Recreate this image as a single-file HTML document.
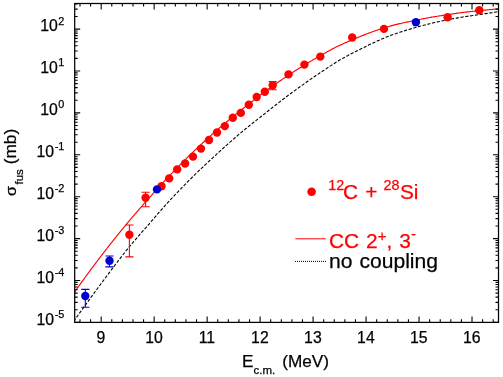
<!DOCTYPE html><html><head><meta charset="utf-8"><style>html,body{margin:0;padding:0;background:#fff}svg{display:block}text{font-family:"Liberation Sans",sans-serif;stroke-width:0.25px;stroke:#000}text[fill="#f00"]{stroke:#f00}</style></head><body>
<svg width="503" height="377" viewBox="0 0 503 377">
<rect width="503" height="377" fill="#fff"/>
<defs><clipPath id="c"><rect x="74.7" y="3.5" width="423.8" height="318.9"/></clipPath></defs>
<g opacity="0.999">
<g clip-path="url(#c)" fill="none">
<path d="M73.70 293.35 C74.03 292.88 75.03 291.46 75.70 290.52 C76.37 289.58 77.03 288.64 77.70 287.71 C78.37 286.77 79.03 285.84 79.70 284.91 C80.37 283.98 81.03 283.05 81.70 282.13 C82.37 281.20 83.03 280.28 83.70 279.36 C84.37 278.44 85.03 277.53 85.70 276.61 C86.37 275.70 87.03 274.79 87.70 273.88 C88.37 272.97 89.03 272.07 89.70 271.17 C90.37 270.26 91.03 269.36 91.70 268.47 C92.37 267.57 93.03 266.68 93.70 265.79 C94.37 264.89 95.03 264.01 95.70 263.12 C96.37 262.23 97.03 261.35 97.70 260.47 C98.37 259.59 99.03 258.71 99.70 257.84 C100.37 256.96 101.03 256.09 101.70 255.22 C102.37 254.35 103.03 253.49 103.70 252.62 C104.37 251.76 105.03 250.90 105.70 250.04 C106.37 249.18 107.03 248.33 107.70 247.48 C108.37 246.62 109.03 245.77 109.70 244.93 C110.37 244.08 111.03 243.24 111.70 242.39 C112.37 241.55 113.03 240.71 113.70 239.88 C114.37 239.04 115.03 238.21 115.70 237.38 C116.37 236.55 117.03 235.72 117.70 234.90 C118.37 234.07 119.03 233.25 119.70 232.43 C120.37 231.61 121.03 230.79 121.70 229.98 C122.37 229.16 123.03 228.35 123.70 227.54 C124.37 226.73 125.03 225.93 125.70 225.12 C126.37 224.32 127.03 223.52 127.70 222.72 C128.37 221.92 129.03 221.13 129.70 220.34 C130.37 219.54 131.03 218.75 131.70 217.97 C132.37 217.18 133.03 216.39 133.70 215.61 C134.37 214.83 135.03 214.05 135.70 213.27 C136.37 212.50 137.03 211.72 137.70 210.95 C138.37 210.18 139.03 209.41 139.70 208.64 C140.37 207.87 141.03 207.11 141.70 206.35 C142.37 205.59 143.03 204.83 143.70 204.07 C144.37 203.32 145.03 202.56 145.70 201.81 C146.37 201.06 147.03 200.31 147.70 199.57 C148.37 198.82 149.03 198.08 149.70 197.33 C150.37 196.59 151.03 195.84 151.70 195.09 C152.37 194.34 153.03 193.60 153.70 192.86 C154.37 192.11 155.03 191.37 155.70 190.64 C156.37 189.90 157.03 189.16 157.70 188.43 C158.37 187.70 159.03 186.97 159.70 186.24 C160.37 185.51 161.03 184.79 161.70 184.07 C162.37 183.34 163.03 182.62 163.70 181.91 C164.37 181.19 165.03 180.47 165.70 179.76 C166.37 179.05 167.03 178.33 167.70 177.63 C168.37 176.92 169.03 176.21 169.70 175.51 C170.37 174.80 171.03 174.10 171.70 173.40 C172.37 172.70 173.03 172.01 173.70 171.31 C174.37 170.62 175.03 169.93 175.70 169.24 C176.37 168.55 177.03 167.86 177.70 167.18 C178.37 166.49 179.03 165.80 179.70 165.13 C180.37 164.45 181.03 163.79 181.70 163.12 C182.37 162.45 183.03 161.79 183.70 161.13 C184.37 160.47 185.03 159.81 185.70 159.16 C186.37 158.50 187.03 157.85 187.70 157.20 C188.37 156.54 189.03 155.90 189.70 155.25 C190.37 154.60 191.03 153.96 191.70 153.31 C192.37 152.67 193.03 152.03 193.70 151.39 C194.37 150.75 195.03 150.12 195.70 149.48 C196.37 148.85 197.03 148.22 197.70 147.59 C198.37 146.96 199.03 146.33 199.70 145.71 C200.37 145.08 201.03 144.46 201.70 143.84 C202.37 143.22 203.03 142.60 203.70 141.98 C204.37 141.36 205.03 140.75 205.70 140.14 C206.37 139.52 207.03 138.91 207.70 138.30 C208.37 137.70 209.03 137.08 209.70 136.49 C210.37 135.89 211.03 135.30 211.70 134.71 C212.37 134.12 213.03 133.53 213.70 132.95 C214.37 132.36 215.03 131.78 215.70 131.20 C216.37 130.62 217.03 130.04 217.70 129.46 C218.37 128.89 219.03 128.31 219.70 127.74 C220.37 127.17 221.03 126.60 221.70 126.03 C222.37 125.46 223.03 124.90 223.70 124.33 C224.37 123.77 225.03 123.21 225.70 122.65 C226.37 122.09 227.03 121.53 227.70 120.97 C228.37 120.42 229.03 119.86 229.70 119.31 C230.37 118.76 231.03 118.21 231.70 117.66 C232.37 117.12 233.03 116.57 233.70 116.03 C234.37 115.48 235.03 114.94 235.70 114.40 C236.37 113.86 237.03 113.32 237.70 112.79 C238.37 112.25 239.03 111.73 239.70 111.19 C240.37 110.65 241.03 110.11 241.70 109.57 C242.37 109.04 243.03 108.50 243.70 107.96 C244.37 107.43 245.03 106.90 245.70 106.37 C246.37 105.84 247.03 105.31 247.70 104.78 C248.37 104.26 249.03 103.73 249.70 103.21 C250.37 102.69 251.03 102.17 251.70 101.65 C252.37 101.13 253.03 100.61 253.70 100.10 C254.37 99.59 255.03 99.07 255.70 98.56 C256.37 98.05 257.03 97.55 257.70 97.04 C258.37 96.53 259.03 96.03 259.70 95.53 C260.37 95.03 261.03 94.53 261.70 94.03 C262.37 93.53 263.03 93.04 263.70 92.54 C264.37 92.05 265.03 91.56 265.70 91.07 C266.37 90.58 267.03 90.09 267.70 89.61 C268.37 89.12 269.03 88.64 269.70 88.16 C270.37 87.67 271.03 87.20 271.70 86.72 C272.37 86.24 273.03 85.77 273.70 85.29 C274.37 84.82 275.03 84.35 275.70 83.88 C276.37 83.41 277.03 82.95 277.70 82.48 C278.37 82.02 279.03 81.55 279.70 81.09 C280.37 80.63 281.03 80.18 281.70 79.72 C282.37 79.26 283.03 78.81 283.70 78.36 C284.37 77.91 285.03 77.46 285.70 77.01 C286.37 76.56 287.03 76.12 287.70 75.67 C288.37 75.23 289.03 74.79 289.70 74.35 C290.37 73.91 291.03 73.47 291.70 73.04 C292.37 72.61 293.03 72.17 293.70 71.74 C294.37 71.31 295.03 70.89 295.70 70.46 C296.37 70.03 297.03 69.61 297.70 69.19 C298.37 68.77 299.03 68.35 299.70 67.93 C300.37 67.51 301.03 67.10 301.70 66.69 C302.37 66.27 303.03 65.86 303.70 65.46 C304.37 65.05 305.03 64.64 305.70 64.24 C306.37 63.84 307.03 63.43 307.70 63.04 C308.37 62.64 309.03 62.24 309.70 61.85 C310.37 61.45 311.03 61.06 311.70 60.67 C312.37 60.28 313.03 59.89 313.70 59.51 C314.37 59.12 315.03 58.74 315.70 58.36 C316.37 57.98 317.03 57.60 317.70 57.22 C318.37 56.85 319.03 56.48 319.70 56.10 C320.37 55.72 321.03 55.34 321.70 54.95 C322.37 54.57 323.03 54.19 323.70 53.81 C324.37 53.44 325.03 53.06 325.70 52.69 C326.37 52.32 327.03 51.94 327.70 51.58 C328.37 51.21 329.03 50.84 329.70 50.48 C330.37 50.12 331.03 49.75 331.70 49.40 C332.37 49.04 333.03 48.68 333.70 48.33 C334.37 47.97 335.03 47.62 335.70 47.27 C336.37 46.93 337.03 46.59 337.70 46.27 C338.37 45.94 339.03 45.64 339.70 45.33 C340.37 45.02 341.03 44.72 341.70 44.41 C342.37 44.11 343.03 43.81 343.70 43.51 C344.37 43.21 345.03 42.92 345.70 42.62 C346.37 42.33 347.03 42.04 347.70 41.75 C348.37 41.46 349.03 41.17 349.70 40.89 C350.37 40.60 351.03 40.32 351.70 40.04 C352.37 39.76 353.03 39.49 353.70 39.21 C354.37 38.94 355.03 38.66 355.70 38.38 C356.37 38.10 357.03 37.82 357.70 37.54 C358.37 37.26 359.03 36.98 359.70 36.71 C360.37 36.44 361.03 36.17 361.70 35.90 C362.37 35.63 363.03 35.36 363.70 35.10 C364.37 34.83 365.03 34.57 365.70 34.31 C366.37 34.06 367.03 33.80 367.70 33.55 C368.37 33.29 369.03 33.04 369.70 32.79 C370.37 32.54 371.03 32.30 371.70 32.05 C372.37 31.81 373.03 31.57 373.70 31.33 C374.37 31.09 375.03 30.86 375.70 30.62 C376.37 30.39 377.03 30.16 377.70 29.93 C378.37 29.70 379.03 29.47 379.70 29.25 C380.37 29.03 381.03 28.81 381.70 28.59 C382.37 28.37 383.03 28.15 383.70 27.94 C384.37 27.73 385.03 27.52 385.70 27.32 C386.37 27.13 387.03 26.94 387.70 26.76 C388.37 26.57 389.03 26.39 389.70 26.21 C390.37 26.02 391.03 25.85 391.70 25.67 C392.37 25.49 393.03 25.32 393.70 25.15 C394.37 24.98 395.03 24.81 395.70 24.64 C396.37 24.47 397.03 24.31 397.70 24.15 C398.37 23.98 399.03 23.82 399.70 23.67 C400.37 23.51 401.03 23.35 401.70 23.20 C402.37 23.05 403.03 22.90 403.70 22.75 C404.37 22.60 405.03 22.46 405.70 22.31 C406.37 22.17 407.03 22.03 407.70 21.89 C408.37 21.75 409.03 21.61 409.70 21.48 C410.37 21.34 411.03 21.21 411.70 21.08 C412.37 20.95 413.03 20.83 413.70 20.69 C414.37 20.56 415.03 20.44 415.70 20.30 C416.37 20.16 417.03 20.01 417.70 19.87 C418.37 19.73 419.03 19.59 419.70 19.45 C420.37 19.32 421.03 19.18 421.70 19.05 C422.37 18.91 423.03 18.78 423.70 18.65 C424.37 18.52 425.03 18.40 425.70 18.27 C426.37 18.15 427.03 18.02 427.70 17.90 C428.37 17.78 429.03 17.66 429.70 17.54 C430.37 17.42 431.03 17.31 431.70 17.19 C432.37 17.08 433.03 16.96 433.70 16.85 C434.37 16.74 435.03 16.63 435.70 16.52 C436.37 16.41 437.03 16.30 437.70 16.20 C438.37 16.09 439.03 15.99 439.70 15.89 C440.37 15.78 441.03 15.67 441.70 15.56 C442.37 15.45 443.03 15.35 443.70 15.24 C444.37 15.14 445.03 15.03 445.70 14.93 C446.37 14.83 447.03 14.72 447.70 14.62 C448.37 14.52 449.03 14.42 449.70 14.32 C450.37 14.23 451.03 14.13 451.70 14.03 C452.37 13.93 453.03 13.84 453.70 13.74 C454.37 13.65 455.03 13.55 455.70 13.46 C456.37 13.36 457.03 13.27 457.70 13.18 C458.37 13.09 459.03 12.99 459.70 12.90 C460.37 12.81 461.03 12.72 461.70 12.63 C462.37 12.54 463.03 12.45 463.70 12.36 C464.37 12.27 465.03 12.19 465.70 12.11 C466.37 12.04 467.03 11.97 467.70 11.91 C468.37 11.84 469.03 11.77 469.70 11.70 C470.37 11.63 471.03 11.56 471.70 11.50 C472.37 11.43 473.03 11.36 473.70 11.29 C474.37 11.22 475.03 11.15 475.70 11.08 C476.37 11.01 477.03 10.94 477.70 10.86 C478.37 10.79 479.03 10.72 479.70 10.65 C480.37 10.57 481.03 10.49 481.70 10.42 C482.37 10.36 483.03 10.31 483.70 10.25 C484.37 10.19 485.03 10.13 485.70 10.07 C486.37 10.01 487.03 9.95 487.70 9.88 C488.37 9.82 489.03 9.76 489.70 9.69 C490.37 9.63 491.03 9.56 491.70 9.49 C492.37 9.42 493.03 9.35 493.70 9.27 C494.37 9.20 495.03 9.12 495.70 9.05 C496.37 8.97 497.37 8.85 497.70 8.81" stroke="#f00" stroke-width="1.15"/>
<path d="M73.70 321.29 C74.03 320.82 75.03 319.42 75.70 318.49 C76.37 317.56 77.03 316.63 77.70 315.70 C78.37 314.77 79.03 313.84 79.70 312.91 C80.37 311.99 81.03 311.06 81.70 310.13 C82.37 309.21 83.03 308.29 83.70 307.36 C84.37 306.44 85.03 305.52 85.70 304.60 C86.37 303.68 87.03 302.76 87.70 301.85 C88.37 300.93 89.03 300.01 89.70 299.10 C90.37 298.19 91.03 297.27 91.70 296.36 C92.37 295.45 93.03 294.55 93.70 293.64 C94.37 292.73 95.03 291.83 95.70 290.93 C96.37 290.02 97.03 289.12 97.70 288.22 C98.37 287.32 99.03 286.43 99.70 285.53 C100.37 284.64 101.03 283.74 101.70 282.85 C102.37 281.96 103.03 281.08 103.70 280.19 C104.37 279.30 105.03 278.41 105.70 277.51 C106.37 276.62 107.03 275.71 107.70 274.81 C108.37 273.91 109.03 273.02 109.70 272.13 C110.37 271.23 111.03 270.34 111.70 269.45 C112.37 268.56 113.03 267.68 113.70 266.79 C114.37 265.91 115.03 265.03 115.70 264.15 C116.37 263.27 117.03 262.39 117.70 261.52 C118.37 260.65 119.03 259.77 119.70 258.91 C120.37 258.04 121.03 257.17 121.70 256.31 C122.37 255.44 123.03 254.57 123.70 253.72 C124.37 252.87 125.03 252.02 125.70 251.20 C126.37 250.38 127.03 249.59 127.70 248.79 C128.37 247.99 129.03 247.19 129.70 246.39 C130.37 245.59 131.03 244.80 131.70 244.01 C132.37 243.22 133.03 242.43 133.70 241.64 C134.37 240.86 135.03 240.07 135.70 239.29 C136.37 238.51 137.03 237.73 137.70 236.96 C138.37 236.18 139.03 235.41 139.70 234.64 C140.37 233.87 141.03 233.10 141.70 232.33 C142.37 231.57 143.03 230.81 143.70 230.05 C144.37 229.29 145.03 228.53 145.70 227.78 C146.37 227.02 147.03 226.27 147.70 225.52 C148.37 224.77 149.03 224.05 149.70 223.28 C150.37 222.52 151.03 221.73 151.70 220.95 C152.37 220.17 153.03 219.38 153.70 218.60 C154.37 217.83 155.03 217.05 155.70 216.28 C156.37 215.51 157.03 214.74 157.70 213.97 C158.37 213.20 159.03 212.44 159.70 211.68 C160.37 210.91 161.03 210.16 161.70 209.40 C162.37 208.64 163.03 207.88 163.70 207.14 C164.37 206.39 165.03 205.64 165.70 204.91 C166.37 204.17 167.03 203.45 167.70 202.73 C168.37 202.00 169.03 201.28 169.70 200.56 C170.37 199.85 171.03 199.13 171.70 198.42 C172.37 197.70 173.03 196.99 173.70 196.28 C174.37 195.57 175.03 194.87 175.70 194.16 C176.37 193.46 177.03 192.76 177.70 192.06 C178.37 191.36 179.03 190.66 179.70 189.97 C180.37 189.28 181.03 188.58 181.70 187.89 C182.37 187.20 183.03 186.52 183.70 185.83 C184.37 185.15 185.03 184.47 185.70 183.79 C186.37 183.11 187.03 182.43 187.70 181.75 C188.37 181.08 189.03 180.40 189.70 179.73 C190.37 179.07 191.03 178.41 191.70 177.76 C192.37 177.10 193.03 176.45 193.70 175.80 C194.37 175.14 195.03 174.50 195.70 173.85 C196.37 173.20 197.03 172.56 197.70 171.91 C198.37 171.27 199.03 170.63 199.70 169.99 C200.37 169.36 201.03 168.72 201.70 168.09 C202.37 167.45 203.03 166.82 203.70 166.19 C204.37 165.56 205.03 164.94 205.70 164.31 C206.37 163.69 207.03 163.06 207.70 162.44 C208.37 161.82 209.03 161.20 209.70 160.58 C210.37 159.97 211.03 159.35 211.70 158.74 C212.37 158.13 213.03 157.52 213.70 156.91 C214.37 156.29 215.03 155.69 215.70 155.07 C216.37 154.46 217.03 153.84 217.70 153.23 C218.37 152.62 219.03 152.01 219.70 151.40 C220.37 150.79 221.03 150.19 221.70 149.58 C222.37 148.98 223.03 148.38 223.70 147.78 C224.37 147.18 225.03 146.58 225.70 145.98 C226.37 145.39 227.03 144.79 227.70 144.20 C228.37 143.61 229.03 143.01 229.70 142.43 C230.37 141.84 231.03 141.25 231.70 140.66 C232.37 140.08 233.03 139.49 233.70 138.91 C234.37 138.33 235.03 137.75 235.70 137.17 C236.37 136.59 237.03 136.02 237.70 135.44 C238.37 134.87 239.03 134.29 239.70 133.72 C240.37 133.16 241.03 132.61 241.70 132.05 C242.37 131.50 243.03 130.95 243.70 130.40 C244.37 129.85 245.03 129.31 245.70 128.76 C246.37 128.22 247.03 127.67 247.70 127.13 C248.37 126.59 249.03 126.05 249.70 125.51 C250.37 124.97 251.03 124.44 251.70 123.90 C252.37 123.37 253.03 122.84 253.70 122.30 C254.37 121.77 255.03 121.24 255.70 120.71 C256.37 120.19 257.03 119.66 257.70 119.13 C258.37 118.61 259.03 118.09 259.70 117.56 C260.37 117.04 261.03 116.52 261.70 116.00 C262.37 115.49 263.03 114.97 263.70 114.45 C264.37 113.94 265.03 113.42 265.70 112.89 C266.37 112.36 267.03 111.82 267.70 111.28 C268.37 110.75 269.03 110.22 269.70 109.69 C270.37 109.16 271.03 108.63 271.70 108.10 C272.37 107.58 273.03 107.05 273.70 106.53 C274.37 106.00 275.03 105.48 275.70 104.96 C276.37 104.44 277.03 103.92 277.70 103.41 C278.37 102.89 279.03 102.37 279.70 101.86 C280.37 101.35 281.03 100.84 281.70 100.32 C282.37 99.81 283.03 99.31 283.70 98.80 C284.37 98.29 285.03 97.79 285.70 97.28 C286.37 96.78 287.03 96.28 287.70 95.78 C288.37 95.28 289.03 94.78 289.70 94.28 C290.37 93.79 291.03 93.29 291.70 92.80 C292.37 92.30 293.03 91.81 293.70 91.32 C294.37 90.83 295.03 90.34 295.70 89.86 C296.37 89.37 297.03 88.88 297.70 88.40 C298.37 87.91 299.03 87.43 299.70 86.95 C300.37 86.47 301.03 85.99 301.70 85.51 C302.37 85.03 303.03 84.55 303.70 84.08 C304.37 83.61 305.03 83.13 305.70 82.66 C306.37 82.19 307.03 81.72 307.70 81.26 C308.37 80.79 309.03 80.33 309.70 79.86 C310.37 79.40 311.03 78.94 311.70 78.48 C312.37 78.02 313.03 77.56 313.70 77.11 C314.37 76.65 315.03 76.20 315.70 75.74 C316.37 75.29 317.03 74.84 317.70 74.39 C318.37 73.95 319.03 73.50 319.70 73.06 C320.37 72.61 321.03 72.16 321.70 71.71 C322.37 71.26 323.03 70.81 323.70 70.36 C324.37 69.92 325.03 69.47 325.70 69.03 C326.37 68.59 327.03 68.15 327.70 67.71 C328.37 67.28 329.03 66.84 329.70 66.41 C330.37 65.98 331.03 65.54 331.70 65.12 C332.37 64.69 333.03 64.26 333.70 63.83 C334.37 63.41 335.03 62.99 335.70 62.57 C336.37 62.15 337.03 61.73 337.70 61.31 C338.37 60.90 339.03 60.47 339.70 60.07 C340.37 59.67 341.03 59.31 341.70 58.93 C342.37 58.56 343.03 58.19 343.70 57.82 C344.37 57.46 345.03 57.09 345.70 56.73 C346.37 56.37 347.03 56.01 347.70 55.65 C348.37 55.29 349.03 54.94 349.70 54.58 C350.37 54.23 351.03 53.88 351.70 53.53 C352.37 53.18 353.03 52.84 353.70 52.49 C354.37 52.15 355.03 51.81 355.70 51.47 C356.37 51.13 357.03 50.79 357.70 50.46 C358.37 50.13 359.03 49.80 359.70 49.47 C360.37 49.14 361.03 48.81 361.70 48.49 C362.37 48.16 363.03 47.84 363.70 47.52 C364.37 47.20 365.03 46.88 365.70 46.55 C366.37 46.22 367.03 45.89 367.70 45.56 C368.37 45.23 369.03 44.90 369.70 44.58 C370.37 44.26 371.03 43.94 371.70 43.62 C372.37 43.30 373.03 42.99 373.70 42.67 C374.37 42.36 375.03 42.05 375.70 41.74 C376.37 41.44 377.03 41.13 377.70 40.83 C378.37 40.53 379.03 40.23 379.70 39.93 C380.37 39.63 381.03 39.34 381.70 39.05 C382.37 38.75 383.03 38.46 383.70 38.18 C384.37 37.90 385.03 37.62 385.70 37.35 C386.37 37.08 387.03 36.83 387.70 36.58 C388.37 36.33 389.03 36.07 389.70 35.83 C390.37 35.58 391.03 35.33 391.70 35.09 C392.37 34.84 393.03 34.60 393.70 34.37 C394.37 34.13 395.03 33.89 395.70 33.66 C396.37 33.43 397.03 33.20 397.70 32.97 C398.37 32.74 399.03 32.52 399.70 32.30 C400.37 32.08 401.03 31.86 401.70 31.64 C402.37 31.43 403.03 31.21 403.70 31.00 C404.37 30.79 405.03 30.59 405.70 30.38 C406.37 30.18 407.03 29.97 407.70 29.77 C408.37 29.57 409.03 29.38 409.70 29.18 C410.37 28.99 411.03 28.80 411.70 28.61 C412.37 28.42 413.03 28.24 413.70 28.05 C414.37 27.86 415.03 27.68 415.70 27.49 C416.37 27.30 417.03 27.09 417.70 26.90 C418.37 26.71 419.03 26.52 419.70 26.33 C420.37 26.14 421.03 25.95 421.70 25.77 C422.37 25.59 423.03 25.41 423.70 25.23 C424.37 25.05 425.03 24.88 425.70 24.71 C426.37 24.53 427.03 24.36 427.70 24.20 C428.37 24.03 429.03 23.86 429.70 23.70 C430.37 23.54 431.03 23.38 431.70 23.22 C432.37 23.06 433.03 22.91 433.70 22.75 C434.37 22.60 435.03 22.45 435.70 22.30 C436.37 22.15 437.03 22.00 437.70 21.86 C438.37 21.72 439.03 21.58 439.70 21.43 C440.37 21.29 441.03 21.14 441.70 21.00 C442.37 20.86 443.03 20.71 443.70 20.57 C444.37 20.43 445.03 20.30 445.70 20.16 C446.37 20.03 447.03 19.89 447.70 19.76 C448.37 19.63 449.03 19.50 449.70 19.37 C450.37 19.24 451.03 19.11 451.70 18.99 C452.37 18.86 453.03 18.74 453.70 18.62 C454.37 18.50 455.03 18.38 455.70 18.26 C456.37 18.14 457.03 18.02 457.70 17.91 C458.37 17.79 459.03 17.67 459.70 17.56 C460.37 17.45 461.03 17.34 461.70 17.22 C462.37 17.11 463.03 17.00 463.70 16.89 C464.37 16.79 465.03 16.68 465.70 16.58 C466.37 16.47 467.03 16.38 467.70 16.28 C468.37 16.18 469.03 16.08 469.70 15.98 C470.37 15.88 471.03 15.79 471.70 15.69 C472.37 15.59 473.03 15.50 473.70 15.40 C474.37 15.30 475.03 15.21 475.70 15.11 C476.37 15.01 477.03 14.92 477.70 14.82 C478.37 14.73 479.03 14.63 479.70 14.53 C480.37 14.44 481.03 14.34 481.70 14.24 C482.37 14.15 483.03 14.05 483.70 13.95 C484.37 13.85 485.03 13.75 485.70 13.65 C486.37 13.55 487.03 13.45 487.70 13.35 C488.37 13.25 489.03 13.15 489.70 13.04 C490.37 12.94 491.03 12.83 491.70 12.73 C492.37 12.62 493.03 12.51 493.70 12.40 C494.37 12.29 495.03 12.18 495.70 12.07 C496.37 11.95 497.37 11.78 497.70 11.72" stroke="#000" stroke-width="1.1" stroke-dasharray="3.2 1.65"/>
</g>
<path d="M129.4 225.0V256.9M125.3 225.0H133.5M125.3 256.9H133.5" stroke="#f00" stroke-width="1.1" fill="none"/><circle cx="129.4" cy="234.7" r="4.2" fill="#f00"/>
<path d="M145.6 192.3V206.8M141.5 192.3H149.7M141.5 206.8H149.7" stroke="#f00" stroke-width="1.1" fill="none"/><circle cx="145.6" cy="197.7" r="4.2" fill="#f00"/>
<circle cx="161.5" cy="186.3" r="4.2" fill="#f00"/>
<circle cx="169.2" cy="178.4" r="4.2" fill="#f00"/>
<circle cx="177.2" cy="169.4" r="4.2" fill="#f00"/>
<circle cx="185.1" cy="163.5" r="4.2" fill="#f00"/>
<circle cx="193.0" cy="156.6" r="4.2" fill="#f00"/>
<circle cx="201.0" cy="148.6" r="4.2" fill="#f00"/>
<circle cx="209.0" cy="140.0" r="4.2" fill="#f00"/>
<circle cx="217.0" cy="132.5" r="4.2" fill="#f00"/>
<circle cx="224.8" cy="126.1" r="4.2" fill="#f00"/>
<circle cx="232.8" cy="117.7" r="4.2" fill="#f00"/>
<circle cx="240.8" cy="112.9" r="4.2" fill="#f00"/>
<circle cx="248.8" cy="104.8" r="4.2" fill="#f00"/>
<circle cx="256.7" cy="97.0" r="4.2" fill="#f00"/>
<circle cx="264.8" cy="91.8" r="4.2" fill="#f00"/>
<path d="M272.7 81.5V89.8M268.6 81.5H276.8M268.6 89.8H276.8" stroke="#f00" stroke-width="1.1" fill="none"/><circle cx="272.7" cy="85.3" r="4.2" fill="#f00"/>
<circle cx="288.5" cy="74.4" r="4.2" fill="#f00"/>
<circle cx="304.4" cy="64.6" r="4.2" fill="#f00"/>
<circle cx="320.3" cy="56.6" r="4.2" fill="#f00"/>
<circle cx="352.2" cy="37.5" r="4.2" fill="#f00"/>
<circle cx="384.0" cy="28.9" r="4.2" fill="#f00"/>
<circle cx="447.6" cy="17.3" r="4.2" fill="#f00"/>
<circle cx="479.3" cy="10.3" r="4.2" fill="#f00"/>
<path d="M85.3 289.4V307.2M81.2 289.4H89.4M81.2 307.2H89.4" stroke="#00c" stroke-width="1.1" fill="none"/><circle cx="85.3" cy="296.0" r="4.2" fill="#00c"/>
<path d="M109.5 256.0V266.9M105.4 256.0H113.6M105.4 266.9H113.6" stroke="#00c" stroke-width="1.1" fill="none"/><circle cx="109.5" cy="260.8" r="4.2" fill="#00c"/>
<circle cx="157.0" cy="189.4" r="4.2" fill="#00c"/>
<circle cx="415.9" cy="22.3" r="4.2" fill="#00c"/>
<rect x="74.7" y="3.5" width="423.8" height="318.9" fill="none" stroke="#000" stroke-width="1.25"/>
<path d="M80.00 322.4v-3.1 M80.00 3.5v3.1 M90.59 322.4v-3.1 M90.59 3.5v3.1 M101.19 322.4v-6.0 M101.19 3.5v6.0 M111.78 322.4v-3.1 M111.78 3.5v3.1 M122.38 322.4v-3.1 M122.38 3.5v3.1 M132.97 322.4v-3.1 M132.97 3.5v3.1 M143.57 322.4v-3.1 M143.57 3.5v3.1 M154.16 322.4v-6.0 M154.16 3.5v6.0 M164.76 322.4v-3.1 M164.76 3.5v3.1 M175.35 322.4v-3.1 M175.35 3.5v3.1 M185.95 322.4v-3.1 M185.95 3.5v3.1 M196.54 322.4v-3.1 M196.54 3.5v3.1 M207.14 322.4v-6.0 M207.14 3.5v6.0 M217.73 322.4v-3.1 M217.73 3.5v3.1 M228.33 322.4v-3.1 M228.33 3.5v3.1 M238.92 322.4v-3.1 M238.92 3.5v3.1 M249.52 322.4v-3.1 M249.52 3.5v3.1 M260.11 322.4v-6.0 M260.11 3.5v6.0 M270.71 322.4v-3.1 M270.71 3.5v3.1 M281.30 322.4v-3.1 M281.30 3.5v3.1 M291.90 322.4v-3.1 M291.90 3.5v3.1 M302.49 322.4v-3.1 M302.49 3.5v3.1 M313.09 322.4v-6.0 M313.09 3.5v6.0 M323.68 322.4v-3.1 M323.68 3.5v3.1 M334.28 322.4v-3.1 M334.28 3.5v3.1 M344.87 322.4v-3.1 M344.87 3.5v3.1 M355.47 322.4v-3.1 M355.47 3.5v3.1 M366.06 322.4v-6.0 M366.06 3.5v6.0 M376.66 322.4v-3.1 M376.66 3.5v3.1 M387.25 322.4v-3.1 M387.25 3.5v3.1 M397.85 322.4v-3.1 M397.85 3.5v3.1 M408.44 322.4v-3.1 M408.44 3.5v3.1 M419.04 322.4v-6.0 M419.04 3.5v6.0 M429.63 322.4v-3.1 M429.63 3.5v3.1 M440.23 322.4v-3.1 M440.23 3.5v3.1 M450.82 322.4v-3.1 M450.82 3.5v3.1 M461.42 322.4v-3.1 M461.42 3.5v3.1 M472.01 322.4v-6.0 M472.01 3.5v6.0 M482.61 322.4v-3.1 M482.61 3.5v3.1 M493.20 322.4v-3.1 M493.20 3.5v3.1 M74.7 322.40h5.5 M498.5 322.40h-5.5 M74.7 309.79h3.0 M498.5 309.79h-3.0 M74.7 302.41h3.0 M498.5 302.41h-3.0 M74.7 297.17h3.0 M498.5 297.17h-3.0 M74.7 293.11h3.0 M498.5 293.11h-3.0 M74.7 289.80h3.0 M498.5 289.80h-3.0 M74.7 286.99h3.0 M498.5 286.99h-3.0 M74.7 284.56h3.0 M498.5 284.56h-3.0 M74.7 282.42h3.0 M498.5 282.42h-3.0 M74.7 280.50h5.5 M498.5 280.50h-5.5 M74.7 267.89h3.0 M498.5 267.89h-3.0 M74.7 260.51h3.0 M498.5 260.51h-3.0 M74.7 255.27h3.0 M498.5 255.27h-3.0 M74.7 251.21h3.0 M498.5 251.21h-3.0 M74.7 247.90h3.0 M498.5 247.90h-3.0 M74.7 245.09h3.0 M498.5 245.09h-3.0 M74.7 242.66h3.0 M498.5 242.66h-3.0 M74.7 240.52h3.0 M498.5 240.52h-3.0 M74.7 238.60h5.5 M498.5 238.60h-5.5 M74.7 225.99h3.0 M498.5 225.99h-3.0 M74.7 218.61h3.0 M498.5 218.61h-3.0 M74.7 213.37h3.0 M498.5 213.37h-3.0 M74.7 209.31h3.0 M498.5 209.31h-3.0 M74.7 206.00h3.0 M498.5 206.00h-3.0 M74.7 203.19h3.0 M498.5 203.19h-3.0 M74.7 200.76h3.0 M498.5 200.76h-3.0 M74.7 198.62h3.0 M498.5 198.62h-3.0 M74.7 196.70h5.5 M498.5 196.70h-5.5 M74.7 184.09h3.0 M498.5 184.09h-3.0 M74.7 176.71h3.0 M498.5 176.71h-3.0 M74.7 171.47h3.0 M498.5 171.47h-3.0 M74.7 167.41h3.0 M498.5 167.41h-3.0 M74.7 164.10h3.0 M498.5 164.10h-3.0 M74.7 161.29h3.0 M498.5 161.29h-3.0 M74.7 158.86h3.0 M498.5 158.86h-3.0 M74.7 156.72h3.0 M498.5 156.72h-3.0 M74.7 154.80h5.5 M498.5 154.80h-5.5 M74.7 142.19h3.0 M498.5 142.19h-3.0 M74.7 134.81h3.0 M498.5 134.81h-3.0 M74.7 129.57h3.0 M498.5 129.57h-3.0 M74.7 125.51h3.0 M498.5 125.51h-3.0 M74.7 122.20h3.0 M498.5 122.20h-3.0 M74.7 119.39h3.0 M498.5 119.39h-3.0 M74.7 116.96h3.0 M498.5 116.96h-3.0 M74.7 114.82h3.0 M498.5 114.82h-3.0 M74.7 112.90h5.5 M498.5 112.90h-5.5 M74.7 100.29h3.0 M498.5 100.29h-3.0 M74.7 92.91h3.0 M498.5 92.91h-3.0 M74.7 87.67h3.0 M498.5 87.67h-3.0 M74.7 83.61h3.0 M498.5 83.61h-3.0 M74.7 80.30h3.0 M498.5 80.30h-3.0 M74.7 77.49h3.0 M498.5 77.49h-3.0 M74.7 75.06h3.0 M498.5 75.06h-3.0 M74.7 72.92h3.0 M498.5 72.92h-3.0 M74.7 71.00h5.5 M498.5 71.00h-5.5 M74.7 58.39h3.0 M498.5 58.39h-3.0 M74.7 51.01h3.0 M498.5 51.01h-3.0 M74.7 45.77h3.0 M498.5 45.77h-3.0 M74.7 41.71h3.0 M498.5 41.71h-3.0 M74.7 38.40h3.0 M498.5 38.40h-3.0 M74.7 35.59h3.0 M498.5 35.59h-3.0 M74.7 33.16h3.0 M498.5 33.16h-3.0 M74.7 31.02h3.0 M498.5 31.02h-3.0 M74.7 29.10h5.5 M498.5 29.10h-5.5 M74.7 16.49h3.0 M498.5 16.49h-3.0 M74.7 9.11h3.0 M498.5 9.11h-3.0 M74.7 3.87h3.0 M498.5 3.87h-3.0" stroke="#000" stroke-width="1.1" fill="none"/>
<text x="101.0" y="342.5" font-size="15.8" text-anchor="middle">9</text>
<text x="154.0" y="342.5" font-size="15.8" text-anchor="middle">10</text>
<text x="206.9" y="342.5" font-size="15.8" text-anchor="middle">11</text>
<text x="259.9" y="342.5" font-size="15.8" text-anchor="middle">12</text>
<text x="312.9" y="342.5" font-size="15.8" text-anchor="middle">13</text>
<text x="365.9" y="342.5" font-size="15.8" text-anchor="middle">14</text>
<text x="418.8" y="342.5" font-size="15.8" text-anchor="middle">15</text>
<text x="471.8" y="342.5" font-size="15.8" text-anchor="middle">16</text>
<text x="64.4" y="324.6" font-size="15.8" text-anchor="end">10<tspan dy="-6.8" dx="0.6" font-size="10.9">-5</tspan></text>
<text x="64.4" y="282.7" font-size="15.8" text-anchor="end">10<tspan dy="-6.8" dx="0.6" font-size="10.9">-4</tspan></text>
<text x="64.4" y="240.8" font-size="15.8" text-anchor="end">10<tspan dy="-6.8" dx="0.6" font-size="10.9">-3</tspan></text>
<text x="64.4" y="198.9" font-size="15.8" text-anchor="end">10<tspan dy="-6.8" dx="0.6" font-size="10.9">-2</tspan></text>
<text x="64.4" y="157.0" font-size="15.8" text-anchor="end">10<tspan dy="-6.8" dx="0.6" font-size="10.9">-1</tspan></text>
<text x="64.4" y="115.1" font-size="15.8" text-anchor="end">10<tspan dy="-6.8" dx="0.6" font-size="10.9">0</tspan></text>
<text x="64.4" y="73.2" font-size="15.8" text-anchor="end">10<tspan dy="-6.8" dx="0.6" font-size="10.9">1</tspan></text>
<text x="64.4" y="31.3" font-size="15.8" text-anchor="end">10<tspan dy="-6.8" dx="0.6" font-size="10.9">2</tspan></text>
<text x="242" y="366.8" font-size="17.2">E<tspan dy="7.2" font-size="11.5">c.m.</tspan><tspan dy="-7.2" dx="2.2"> (MeV)</tspan></text>
<text transform="translate(16.3,196.0) rotate(-90) scale(1.13,1)" font-size="14.4">σ</text>
<text transform="translate(23.3,184.5) rotate(-90)" font-size="11.5">fus</text>
<text transform="translate(16.2,164.2) rotate(-90)" font-size="17.2">(mb)</text>
<circle cx="311.6" cy="191.8" r="4.3" fill="#f00"/>
<text y="199.1" font-size="20.8" fill="#f00"><tspan x="328.2" dy="-9.6" font-size="14.3">12</tspan><tspan x="342.9" dy="9.6">C</tspan><tspan x="365.2">+</tspan><tspan x="383.5" dy="-9.6" font-size="14.3">28</tspan><tspan x="400.0" dy="9.6">Si</tspan></text>
<path d="M295.3 238.8H325.8" stroke="#f00" stroke-width="1"/>
<text x="328.9" y="247.6" font-size="20.9" fill="#f00" word-spacing="1.2">CC 2<tspan dy="-6.6" font-size="15">+</tspan><tspan dy="6.6">, 3</tspan><tspan dy="-9" font-size="15">-</tspan></text>
<path d="M295 261.4H326" stroke="#000" stroke-width="1" stroke-dasharray="1 1"/>
<text x="329.1" y="267.9" font-size="21.1" word-spacing="1">no coupling</text>
</g>
</svg></body></html>
